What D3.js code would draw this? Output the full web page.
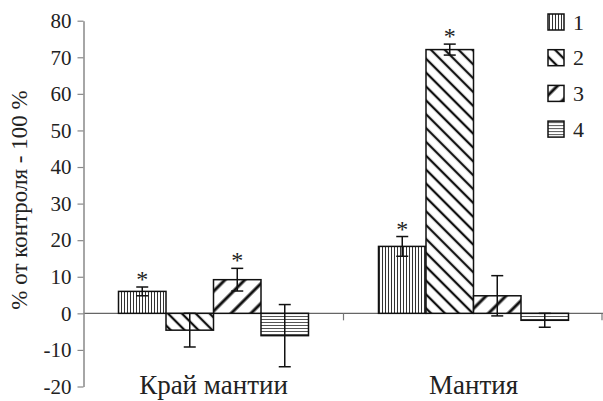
<!DOCTYPE html>
<html>
<head>
<meta charset="utf-8">
<script src="https://cdn.jsdelivr.net/npm/d3@7"></script>
<style>
  body { margin: 0; background: #fff; }
  svg text { font-family: "Liberation Serif", "DejaVu Serif", serif; fill: #222; }
</style>
</head>
<body>
<svg width="603" height="401"></svg>
<script>
// data
var categories = ["Край мантии", "Мантия"];
var seriesNames = ["1", "2", "3", "4"];
var values1 = [6.0, 18.3];
var values2 = [-4.6, 72.1];
var values3 = [9.2, 4.8];
var values4 = [-6.1, -1.9];
var errors1 = [1.2, 2.7];
var errors2 = [4.6, 1.5];
var errors3 = [3.1, 5.5];
var errors4 = [8.5, 1.9];
var stars1 = [true, true];
var stars2 = [false, true];
var stars3 = [true, false];
var stars4 = [false, false];
var yTicks = [-20, -10, 0, 10, 20, 30, 40, 50, 60, 70, 80];

var allValues = [values1, values2, values3, values4];
var allErrors = [errors1, errors2, errors3, errors4];
var allStars = [stars1, stars2, stars3, stars4];

var serif = "'Liberation Serif', 'DejaVu Serif', serif";
var svg = d3.select("svg");

var y = d3.scaleLinear().domain([-20, 80]).range([386.5, 20.7]);
var x0 = d3.scaleBand().domain(categories).range([83.5, 603.5]);
var x1 = d3.scaleBand().domain(seriesNames).range([35, 225]);

// patterns
var defs = svg.append("defs");
function linePattern(id, size, angle, width, color) {
	var p = defs.append("pattern")
		.attr("id", id)
		.attr("patternUnits", "userSpaceOnUse")
		.attr("width", size)
		.attr("height", size)
		.attr("patternTransform", "rotate(" + angle + ")");
	p.append("rect").attr("width", size).attr("height", size).attr("fill", "#fff");
	p.append("line")
		.attr("x1", size / 2).attr("y1", 0)
		.attr("x2", size / 2).attr("y2", size)
		.attr("stroke", color)
		.attr("stroke-width", width);
}
linePattern("p1", 3, 0, 1, "#333");
linePattern("p2", 9.8, -45, 2.3, "#111");
linePattern("p3", 14, 45, 3, "#111");
linePattern("p4", 3, 90, 1, "#555");
var fills = ["url(#p1)", "url(#p2)", "url(#p3)", "url(#p4)"];

var rows = [];
seriesNames.forEach((s, i) => {
	categories.forEach((c, j) => {
		rows.push({ cat: c, ser: s, idx: i, v: allValues[i][j], e: allErrors[i][j], star: allStars[i][j] });
	});
});

// zero line
svg.append("line")
	.attr("x1", 83.5).attr("x2", 603)
	.attr("y1", y(0)).attr("y2", y(0))
	.attr("stroke", "#666").attr("stroke-width", 1.2);

// category ticks (down from zero line)
svg.append("g")
	.selectAll("line")
	.data(categories.slice(1).concat(["end"]))
	.enter().append("line")
	.attr("x1", d => d == "end" ? 602 : x0(d))
	.attr("x2", d => d == "end" ? 602 : x0(d))
	.attr("y1", y(0))
	.attr("y2", y(0) + 7)
	.attr("stroke", "#777").attr("stroke-width", 1.2);

// bars
svg.append("g")
	.selectAll("rect")
	.data(rows)
	.enter().append("rect")
	.attr("x", d => x0(d.cat) + x1(d.ser))
	.attr("width", x1.bandwidth())
	.attr("y", d => y(Math.max(0, d.v)))
	.attr("height", d => Math.abs(y(d.v) - y(0)))
	.attr("fill", d => fills[d.idx])
	.attr("stroke", "#111")
	.attr("stroke-width", 1.5);

// error bars
var eb = svg.append("g").selectAll("g")
	.data(rows)
	.enter().append("g")
	.attr("transform", d => "translate(" + (x0(d.cat) + x1(d.ser) + x1.bandwidth() / 2) + ",0)");
eb.append("line")
	.attr("y1", d => y(d.v + d.e)).attr("y2", d => y(d.v - d.e))
	.attr("stroke", "#111").attr("stroke-width", 1.5);
eb.append("line")
	.attr("x1", -6).attr("x2", 6)
	.attr("y1", d => y(d.v + d.e)).attr("y2", d => y(d.v + d.e))
	.attr("stroke", "#111").attr("stroke-width", 1.5);
eb.append("line")
	.attr("x1", -6).attr("x2", 6)
	.attr("y1", d => y(d.v - d.e)).attr("y2", d => y(d.v - d.e))
	.attr("stroke", "#111").attr("stroke-width", 1.5);
eb.filter(d => d.star).append("text")
	.attr("y", d => y(d.v + d.e))
	.attr("text-anchor", "middle")
	.attr("font-family", serif)
	.attr("font-size", 24)
	.text("*");

// y axis
var yAxis = svg.append("g")
	.attr("transform", "translate(83.5,0)")
	.call(d3.axisLeft(y).tickValues(yTicks).tickFormat(d => String(d))
		.tickSize(6).tickSizeOuter(0).tickPadding(6));
yAxis.attr("font-family", serif).attr("font-size", 21);
yAxis.select(".domain").attr("stroke", "#888").attr("stroke-width", 1.5);
yAxis.selectAll(".tick line").attr("stroke", "#888").attr("stroke-width", 1.2);
yAxis.selectAll(".tick text").attr("fill", "#222");

// y title
svg.append("text")
	.attr("transform", "translate(27,200) rotate(-90)")
	.attr("text-anchor", "middle")
	.attr("font-family", serif)
	.attr("font-size", 23)
	.text("% от контроля - 100 %");

// category labels
svg.append("g")
	.selectAll("text")
	.data(categories)
	.enter().append("text")
	.attr("x", d => x0(d) + x0.bandwidth() / 2)
	.attr("y", 394)
	.attr("text-anchor", "middle")
	.attr("font-family", serif)
	.attr("font-size", 27)
	.text(d => d);

// legend
var legend = svg.append("g")
	.selectAll("g")
	.data(seriesNames)
	.enter().append("g")
	.attr("transform", (d, i) => "translate(548," + (14 + i * 35.7) + ")");
legend.append("rect")
	.attr("width", 16).attr("height", 16)
	.attr("fill", (d, i) => fills[i])
	.attr("stroke", "#111").attr("stroke-width", 1.5);
legend.append("text")
	.attr("x", 25).attr("y", 8)
	.attr("dy", "0.35em")
	.attr("font-family", serif)
	.attr("font-size", 22)
	.text(d => d);
</script>
</body>
</html>
